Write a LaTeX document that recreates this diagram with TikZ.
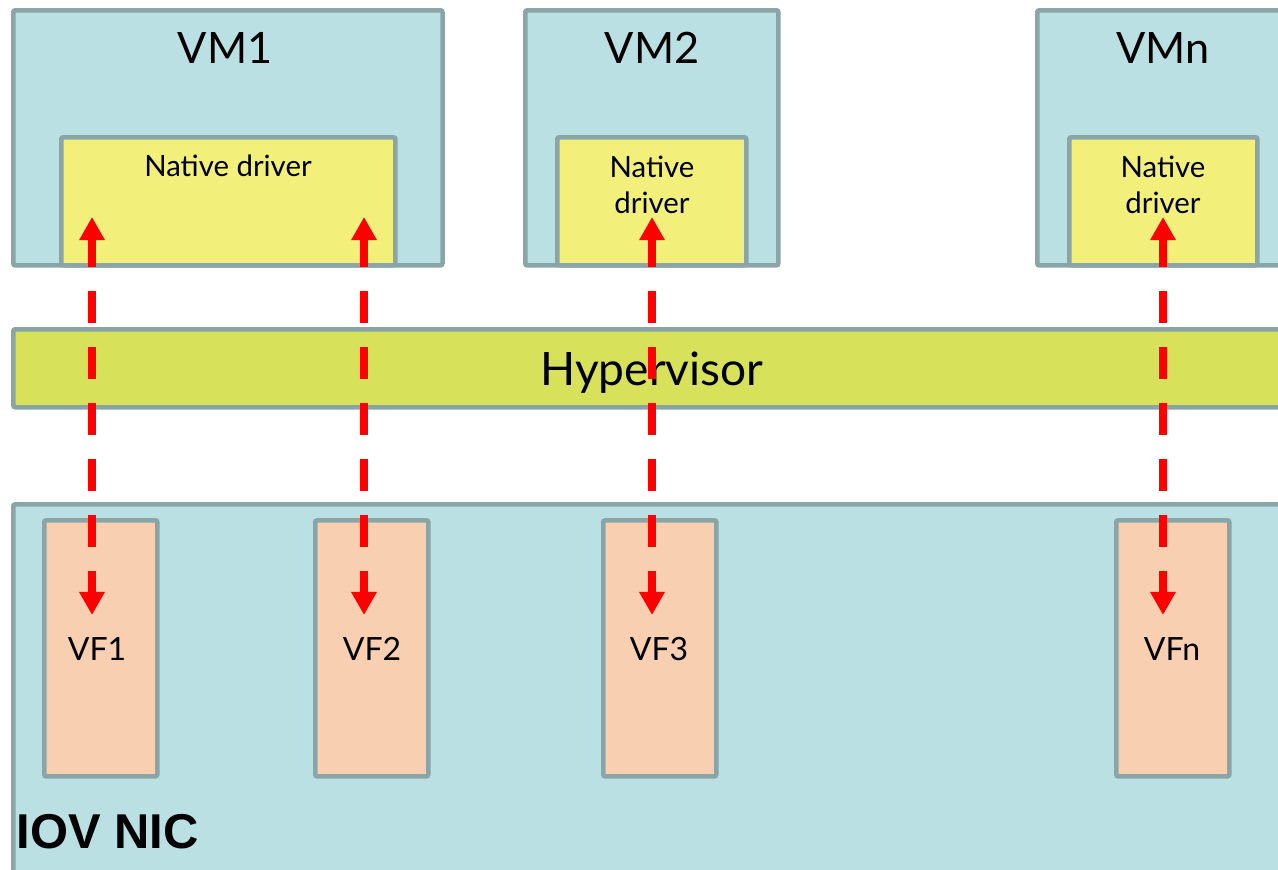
\documentclass[tikz,border=0pt]{standalone}
\usepackage{fontspec}
\setmainfont{Lato}
\newfontfamily\nicfont{Liberation Sans}
\usetikzlibrary{arrows.meta}

\definecolor{edgegrey}{HTML}{8AA5A8}
\definecolor{vmblue}{HTML}{BBE0E3}
\definecolor{drvyellow}{HTML}{F2F07A}
\definecolor{hypgreen}{HTML}{D8E15A}
\definecolor{vfpeach}{HTML}{F8D0B1}

\tikzset{
  box/.style={draw=edgegrey, line width=0.045cm, rounded corners=0.02cm,
    anchor=north west, inner sep=0pt},
  vmbox/.style={box, fill=vmblue},
  drvbox/.style={box, fill=drvyellow, minimum width=1.89cm, minimum height=1.28cm},
  vfbox/.style={box, fill=vfpeach, minimum width=1.13cm, minimum height=2.56cm},
  bigtext/.style={anchor=base, font=\fontsize{12.3}{14}\selectfont},
  drvtext/.style={anchor=base, align=center, font=\fontsize{8.35}{10.2}\selectfont},
  vftext/.style={anchor=base, font=\fontsize{9.1}{11}\selectfont},
  link/.style={red, line width=0.08cm, dash pattern=on 0.32cm off 0.24cm,
    dash phase=0.04cm, {Triangle[width=0.24cm,length=0.23cm]}-{Triangle[width=0.24cm,length=0.23cm]}}
}

\begin{document}
\begin{tikzpicture}[x=0.01cm, y=-0.01cm]
    \useasboundingbox (0,0) rectangle (1278,869);
    \clip (0,0) rectangle (1278,869);

    %virtual machines
    \node[vmbox, minimum width=4.29cm, minimum height=2.55cm] (vm1) at (11,8) {};
    \node[vmbox, minimum width=2.53cm, minimum height=2.55cm] (vm2) at (523,8) {};
    \node[vmbox, minimum width=3.00cm, minimum height=2.55cm] (vmn) at (1035,8) {};
    \node[bigtext] (vm1t) at (225,63) {VM1};
    \node[bigtext] (vm2t) at (652,63) {VM2};
    \node[bigtext] (vmnt) at (1163,63) {VMn};

    %drivers
    \node[drvbox, minimum width=3.34cm] (drv1) at (59,135) {};
    \node[drvbox] (drv2) at (555,135) {};
    \node[drvbox, minimum width=1.88cm] (drvn) at (1067,135) {};
    \node[drvtext] (drv1t) at (228,176) {Native driver};
    \node[drvtext] (drv2t) at (652,213) {Native\\driver};
    \node[drvtext] (drvnt) at (1163,213) {Native\\driver};

    %hypervisor
    \node[box, fill=hypgreen, minimum width=13cm, minimum height=0.78cm] (hyp) at (11,327) {};
    \node[anchor=base, font=\fontsize{13.1}{15}\selectfont] (hypt) at (652,385) {Hypervisor};

    %NIC and virtual functions
    \node[vmbox, minimum width=13cm, minimum height=4cm] (nic) at (11,502) {};
    \node[anchor=base west, font=\nicfont\bfseries\fontsize{13.9}{16}\selectfont, inner sep=0pt] (nict) at (16,848) {IOV NIC};
    \node[vfbox] (vf1) at (42,518) {};
    \node[vfbox] (vf2) at (313,518) {};
    \node[vfbox] (vf3) at (601,518) {};
    \node[vfbox] (vfn) at (1114,518) {};
    \node[vftext] (vf1t) at (97,660) {VF1};
    \node[vftext] (vf2t) at (372,660) {VF2};
    \node[vftext] (vf3t) at (659,660) {VF3};
    \node[vftext] (vfnt) at (1172,660) {VFn};

    %data paths
    \foreach \x [count=\i] in {92,364,652,1163} {
      \coordinate (up\i) at (\x,217);
      \coordinate (dn\i) at (\x,615);
      \draw[link] (up\i) -- (dn\i);
    }
\end{tikzpicture}
\end{document}
